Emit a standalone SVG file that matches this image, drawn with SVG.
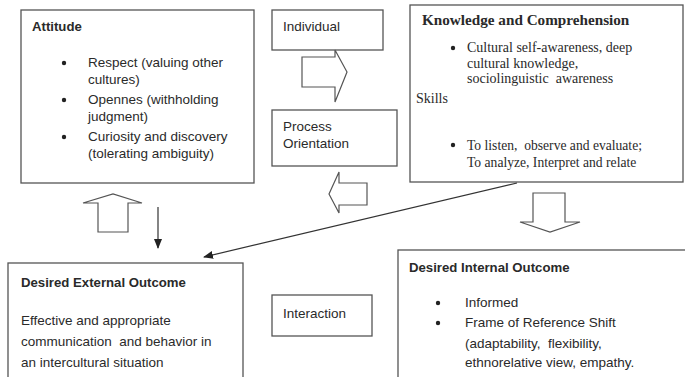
<svg xmlns="http://www.w3.org/2000/svg" width="685" height="377" viewBox="0 0 685 377">
<defs>
<style>
text{white-space:pre}
.box{fill:#fff;stroke:#555;stroke-width:1.3}
.blk{fill:#fff;stroke:#555;stroke-width:1.2;stroke-linejoin:miter}
.s{font-family:"Liberation Sans",Arial,sans-serif;font-size:13.5px;fill:#2a2a2a}
.sb{font-family:"Liberation Sans",Arial,sans-serif;font-size:13.2px;font-weight:bold;fill:#2a2a2a}
.r{font-family:"Liberation Serif","Times New Roman",serif;font-size:14px;fill:#2a2a2a}
.r2{font-family:"Liberation Serif","Times New Roman",serif;font-size:13.6px;fill:#2a2a2a}
.rb{font-family:"Liberation Serif","Times New Roman",serif;font-size:15.2px;font-weight:bold;fill:#2a2a2a}
.dot{fill:#222}
.ln{stroke:#333;stroke-width:1.2;fill:none}
</style>
<marker id="ah" markerWidth="10" markerHeight="8" refX="9" refY="4" orient="auto" markerUnits="userSpaceOnUse">
<path d="M0,0 L10,4 L0,8 Z" fill="#222"/>
</marker>
</defs>
<rect width="685" height="377" fill="#fff"/>

<g id="attitude">
<rect class="box" x="21" y="10" width="233" height="173"/>
<text class="sb" x="32" y="31">Attitude</text>
<circle class="dot" cx="64" cy="63" r="2.2"/>
<text class="s" x="88" y="67">Respect (valuing other</text>
<text class="s" x="88" y="84">cultures)</text>
<circle class="dot" cx="64" cy="100" r="2.2"/>
<text class="s" x="88" y="104">Opennes (withholding</text>
<text class="s" x="88" y="121">judgment)</text>
<circle class="dot" cx="64" cy="137" r="2.2"/>
<text class="s" x="88" y="141">Curiosity and discovery</text>
<text class="s" x="88" y="158">(tolerating ambiguity)</text>
</g>

<g id="individual">
<rect class="box" x="272" y="10" width="111" height="40"/>
<text class="s" x="283" y="31">Individual</text>
</g>

<g id="process">
<rect class="box" x="272" y="110" width="125" height="56"/>
<text class="s" x="283" y="131">Process</text>
<text class="s" x="283" y="148">Orientation</text>
</g>

<g id="knowledge">
<rect class="box" x="410" y="5" width="273" height="177"/>
<text class="rb" x="422" y="25">Knowledge and Comprehension</text>
<circle class="dot" cx="453" cy="48" r="2.2"/>
<text class="r" x="467" y="52">Cultural self-awareness, deep</text>
<text class="r" x="467" y="68">cultural knowledge,</text>
<text class="r" x="467" y="83">sociolinguistic  awareness</text>
<text class="r" x="416" y="103">Skills</text>
<circle class="dot" cx="453" cy="145" r="2.2"/>
<text class="r2" x="467" y="150">To listen,  observe and evaluate;</text>
<text class="r2" x="467" y="167">To analyze, Interpret and relate</text>
</g>

<g id="external">
<rect class="box" x="8" y="263" width="235" height="130"/>
<text class="sb" x="21" y="287">Desired External Outcome</text>
<text class="s" x="21" y="325">Effective and appropriate</text>
<text class="s" x="21" y="346">communication  and behavior in</text>
<text class="s" x="21" y="367">an intercultural situation</text>
</g>

<g id="interaction">
<rect class="box" x="272" y="295" width="100" height="41"/>
<text class="s" x="283" y="318">Interaction</text>
</g>

<g id="internal">
<rect class="box" x="398" y="250" width="300" height="140"/>
<text class="sb" x="409" y="272">Desired Internal Outcome</text>
<circle class="dot" cx="438" cy="303" r="2.2"/>
<text class="s" x="465" y="307">Informed</text>
<circle class="dot" cx="438" cy="323" r="2.2"/>
<text class="s" x="465" y="327">Frame of Reference Shift</text>
<text class="s" x="465" y="348">(adaptability,  flexibility,</text>
<text class="s" x="465" y="367">ethnorelative view, empathy.</text>
</g>

<g id="connectors">
<polygon class="blk" points="302,57 335,57 335,50 347,72 335,102 335,87 302,87"/>
<polygon class="blk" points="367,183 339,183 339,172 329,194 339,213 339,205 367,205"/>
<polygon class="blk" points="98,232 98,203 83,203 113,194 142,203 128,203 128,232"/>
<polygon class="blk" points="533,193 565,193 565,222 580,222 550,232 520,222 533,222"/>
<line class="ln" x1="158" y1="207" x2="158" y2="248" marker-end="url(#ah)"/>
<line class="ln" x1="517" y1="183" x2="204" y2="257" marker-end="url(#ah)"/>
</g>
</svg>
